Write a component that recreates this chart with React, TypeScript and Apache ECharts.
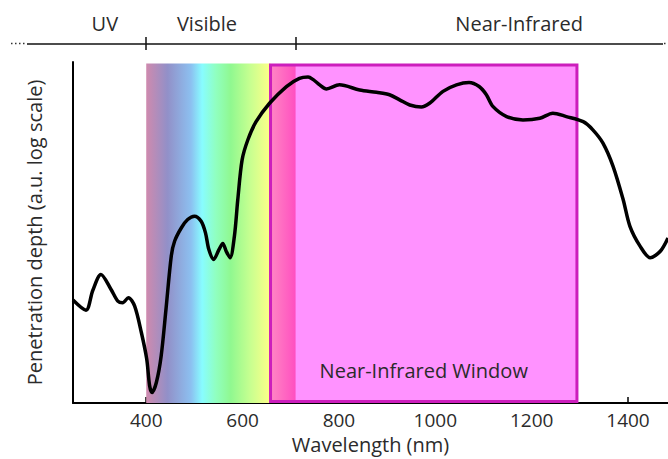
import React, { useEffect, useRef } from "react";
import * as echarts from "echarts";

// Penetration curve (wavelength in nm, penetration depth in arbitrary units)
const wavelengths = [
  248, 275, 289, 306, 327, 341, 351, 363, 376, 390, 401, 407, 412, 421, 431, 441,
  452, 459, 473, 486, 500, 514, 523, 530, 540, 551, 559, 566, 574, 583, 590, 599,
  611, 628, 656, 691, 718, 736, 746, 760, 774, 801, 843, 878, 905, 926, 947, 971,
  988, 1016, 1044, 1070, 1091, 1106, 1120, 1148, 1182, 1217, 1244, 1272, 1307,
  1327, 1348, 1369, 1390, 1404, 1425, 1446, 1467, 1483,
];
const depth = [
  30.2, 27.2, 33.0, 37.7, 33.3, 29.9, 29.4, 30.9, 28.4, 20.6, 12.9, 5.1, 3.1, 6.0,
  13.8, 27.5, 43.1, 47.5, 51.4, 53.8, 54.8, 53.3, 49.9, 45.0, 42.1, 45.0, 46.8,
  44.5, 42.6, 48.9, 59.6, 71.3, 77.2, 82.5, 87.9, 92.8, 95.2, 95.6, 94.9, 93.3,
  92.1, 93.3, 91.8, 91.1, 90.4, 88.9, 87.4, 86.8, 87.9, 91.4, 93.3, 94.0, 92.8,
  90.4, 86.9, 84.0, 83.0, 83.5, 85.0, 84.0, 82.5, 80.1, 76.2, 69.4, 59.6, 51.8,
  46.0, 42.6, 44.5, 48.4,
];

const xTicks = [400, 600, 800, 1000, 1200, 1400];
const xRange = [248, 1483];
const topRange = [152.5, 1472.6];

// Spectral bands on top
const bandBoundaries = [400, 710];
const bandLabels = ["UV", "Visible", "Near-Infrared"];
const bandLabelPositions = [314, 526, 1174];

// Shaded regions (nm)
const visibleSpan = [400, 658];
const redSpan = [658, 710];
const nirWindow = [658, 1294];
const nirWindowLabel = "Near-Infrared Window";

const FONT = "'Open Sans', 'Noto Sans', sans-serif";
const TXT = "#2b2b2b";

export default function App() {
  const ref = useRef<HTMLDivElement>(null);
  useEffect(() => {
    if (!ref.current) return;
    const chart = echarts.init(ref.current, null, { renderer: "svg" });
    const lineData = wavelengths.map((w, i) => [w, depth[i]]);
    const rainbow = new echarts.graphic.LinearGradient(0, 0, 1, 0, [
      { offset: 0, color: "#cf8aae" },
      { offset: 0.17, color: "#9290c8" },
      { offset: 0.36, color: "#8cc0f0" },
      { offset: 0.45, color: "#88fcff" },
      { offset: 0.56, color: "#90ffc0" },
      { offset: 0.68, color: "#90f890" },
      { offset: 0.84, color: "#c8ff90" },
      { offset: 1, color: "#ffff88" },
    ]);
    const redGrad = new echarts.graphic.LinearGradient(0, 0, 1, 0, [
      { offset: 0, color: "#ff86c4" },
      { offset: 1, color: "#ff4fc0" },
    ]);
    const bandMap: Record<number, string> = {};
    bandLabelPositions.forEach((p, i) => (bandMap[p] = bandLabels[i]));

    chart.setOption({
      animation: false,
      textStyle: { fontFamily: FONT },
      grid: [
        { left: 73, right: 0, top: 62, bottom: 55 },
        { left: 27, right: 5, top: 37, height: 13 },
      ],
      xAxis: [
        {
          type: "value",
          gridIndex: 0,
          min: xRange[0],
          max: xRange[1],
          name: "Wavelength (nm)",
          nameLocation: "middle",
          nameGap: 31,
          nameTextStyle: { fontSize: 20, color: TXT, fontFamily: FONT },
          axisLine: { show: true, lineStyle: { color: "#000", width: 2 } },
          axisTick: {
            show: true,
            inside: true,
            length: 6,
            customValues: xTicks,
            lineStyle: { color: "#000", width: 1.5 },
          },
          axisLabel: {
            show: true,
            customValues: xTicks,
            formatter: (v: number) => String(v),
            fontSize: 19,
            color: TXT,
            margin: 7,
            fontFamily: FONT,
          },
          splitLine: { show: false },
        },
        {
          type: "value",
          gridIndex: 1,
          position: "top",
          min: topRange[0],
          max: topRange[1],
          axisLine: { show: false },
          axisTick: { show: false },
          splitLine: { show: false },
          axisLabel: {
            show: true,
            customValues: bandLabelPositions,
            formatter: (v: number) => bandMap[v] ?? "",
            fontSize: 20,
            color: TXT,
            margin: 4,
            fontFamily: FONT,
          },
        },
      ],
      yAxis: [
        {
          type: "value",
          gridIndex: 0,
          min: 0,
          max: 100,
          name: "Penetration depth (a.u. log scale)",
          nameLocation: "middle",
          nameGap: 29,
          nameTextStyle: { fontSize: 20, color: TXT, fontFamily: FONT },
          axisLine: { show: true, lineStyle: { color: "#000", width: 2 } },
          axisTick: { show: false },
          axisLabel: { show: false },
          splitLine: { show: false },
        },
        {
          type: "value",
          gridIndex: 1,
          min: -1,
          max: 1,
          show: false,
        },
      ],
      series: [
        {
          type: "line",
          xAxisIndex: 0,
          yAxisIndex: 0,
          data: [],
          z: 1,
          markArea: {
            silent: true,
            itemStyle: { color: rainbow },
            data: [[{ xAxis: visibleSpan[0], yAxis: 0 }, { xAxis: visibleSpan[1], yAxis: 99.56 }]],
          },
        },
        {
          type: "line",
          xAxisIndex: 0,
          yAxisIndex: 0,
          data: [],
          z: 2,
          markArea: {
            silent: true,
            itemStyle: { color: "#ff92ff" },
            label: {
              show: true,
              position: "insideBottom",
              distance: 21,
              fontSize: 20,
              color: TXT,
              fontFamily: FONT,
            },
            data: [
              [
                { name: nirWindowLabel, xAxis: nirWindow[0], yAxis: 0.45 },
                { xAxis: nirWindow[1], yAxis: 99.1 },
              ],
            ],
          },
        },
        {
          type: "line",
          xAxisIndex: 0,
          yAxisIndex: 0,
          data: [],
          z: 3,
          markArea: {
            silent: true,
            itemStyle: { color: redGrad },
            data: [[{ xAxis: redSpan[0], yAxis: 0.45 }, { xAxis: redSpan[1], yAxis: 99.1 }]],
          },
        },
        {
          type: "line",
          xAxisIndex: 0,
          yAxisIndex: 0,
          data: [],
          z: 4,
          markArea: {
            silent: true,
            itemStyle: { color: "rgba(0,0,0,0)", borderColor: "#cc1ebc", borderWidth: 3 },
            data: [
              [
                { xAxis: nirWindow[0], yAxis: 0.45 },
                { xAxis: nirWindow[1], yAxis: 99.1 },
              ],
            ],
          },
        },
        {
          type: "line",
          xAxisIndex: 0,
          yAxisIndex: 0,
          data: lineData,
          z: 10,
          showSymbol: false,
          smooth: 0.3,
          lineStyle: { color: "#000", width: 3.5 },
          clip: true,
        },
        {
          type: "line",
          xAxisIndex: 1,
          yAxisIndex: 1,
          data: [],
          z: 5,
          markLine: {
            silent: true,
            symbol: "none",
            label: { show: false },
            lineStyle: { color: "#111", width: 1.5, type: "solid" },
            data: [{ yAxis: 0 }, ...bandBoundaries.map((b) => ({ xAxis: b }))],
          },
        },
      ],
      graphic: [
        {
          type: "line",
          shape: { x1: 11, y1: 43.5, x2: 26, y2: 43.5 },
          style: { stroke: "#333", lineWidth: 1.5, lineDash: [1.5, 2.5] },
        },
        {
          type: "line",
          shape: { x1: 664, y1: 43.5, x2: 668, y2: 43.5 },
          style: { stroke: "#333", lineWidth: 1.5, lineDash: [1.5, 2.5] },
        },
      ],
    });
    return () => chart.dispose();
  }, []);
  return <div ref={ref} style={{ width: 668, height: 459, position: "absolute", left: 0, top: 0 }} />;
}
